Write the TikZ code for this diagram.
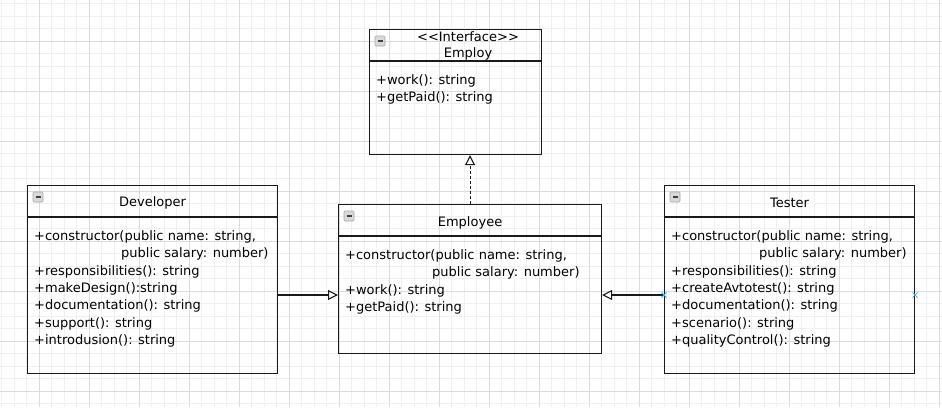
\documentclass[tikz,border=0pt]{standalone}
\usepackage{fontspec}
\setmainfont{DejaVu Sans}
\usetikzlibrary{arrows.meta}
\newcommand{\umlfont}{\fontsize{13}{16}\selectfont}
\definecolor{gridminor}{HTML}{F0F0F0}
\definecolor{gridmajor}{HTML}{DCDCDC}
\definecolor{portblue}{HTML}{29B6F2}
\definecolor{umlline}{HTML}{1A1A1A}

\begin{document}
\begin{tikzpicture}[x=1pt,y=-1pt,
    classbox/.style={draw=umlline, line width=1.1pt, anchor=north west, inner sep=0pt},
    classline/.style={umlline, line width=1.1pt},
    classtitle/.style={anchor=base, inner sep=0pt, font=\umlfont},
    member/.style={anchor=base west, inner sep=0pt, font=\umlfont},
    foldicon/.style={draw=gray!70, fill=gray!30, rounded corners=1pt, line width=0.6pt},
    foldbar/.style={black!75, line width=1.4pt},
    inherit/.style={-{Triangle[open,length=10pt,width=10pt]}, umlline, line width=1.1pt},
    realize/.style={inherit, dash pattern=on 3pt off 2pt},
    port/.style={portblue, line width=0.8pt}]
  \useasboundingbox (0,0) rectangle (942,407);
  % background grid
  \foreach \i in {0,...,75} {
    \draw[gridminor, line width=0.8pt] (1.8+12.5*\i,0) -- (1.8+12.5*\i,407);
  }
  \foreach \i in {0,...,32} {
    \draw[gridminor, line width=0.8pt] (0,3.5+12.5*\i) -- (942,3.5+12.5*\i);
  }
  \foreach \i in {0,...,18} {
    \draw[gridmajor, line width=0.8pt] (39.3+50*\i,0) -- (39.3+50*\i,407);
  }
  \foreach \i in {0,...,7} {
    \draw[gridmajor, line width=0.8pt] (0,41+50*\i) -- (942,41+50*\i);
  }

  % class boxes
  \node[classbox, minimum width=172pt, minimum height=125pt] (employ) at (369,29) {};
  \node[classbox, minimum width=250pt, minimum height=188pt] (dev) at (27,185) {};
  \node[classbox, minimum width=263pt, minimum height=149pt] (emp) at (338,204) {};
  \node[classbox, minimum width=250pt, minimum height=188pt] (tes) at (664,185) {};

  % header dividers and fold icons
  \foreach \b in {employ,dev,emp,tes} {
    \draw[classline] ([yshift=-32pt]\b.north west) -- ([yshift=-32pt]\b.north east);
    \draw[foldicon] ([shift={(6,7)}]\b.north west) rectangle ++(10,10);
    \draw[foldbar] ([shift={(8.5,12)}]\b.north west) -- ++(5,0);
  }

  % titles
  \node[classtitle] (employ-st) at (468,41.3) {<\kern0pt<Interface>\kern0pt>};
  \node[classtitle] (employ-t) at (468,57.3) {Employ};
  \node[classtitle] (dev-t) at ([yshift=-21.5pt]dev.north) {Developer};
  \node[classtitle] (emp-t) at ([yshift=-22pt]emp.north) {Employee};
  \node[classtitle] (tes-t) at ([yshift=-22pt]tes.north) {Tester};

  % members
  \foreach \t [count=\i from 0] in {{+work(): string},{+getPaid(): string}} {
    \node[member] (employ-m\i) at ([shift={(7,55+17.3*\i)}]employ.north west) {\t};
  }
  \foreach \t [count=\i from 0] in {{+constructor(public name: string,},
      {\hspace*{87pt}public salary: number)},{+responsibilities(): string},
      {+makeDesign():string},{+documentation(): string},{+support(): string},
      {+introdusion(): string}} {
    \node[member] (dev-m\i) at ([shift={(7,55.5+17.3*\i)}]dev.north west) {\t};
  }
  \foreach \t [count=\i from 0] in {{+constructor(public name: string,},
      {\hspace*{87pt}public salary: number)},{+work(): string},{+getPaid(): string}} {
    \node[member] (emp-m\i) at ([shift={(7,55.5+17.3*\i)}]emp.north west) {\t};
  }
  \foreach \t [count=\i from 0] in {{+constructor(public name: string,},
      {\hspace*{88pt}public salary: number)},{+responsibilities(): string},
      {+createAvtotest(): string},{+documentation(): string},{+scenario(): string},
      {+qualityControl(): string}} {
    \node[member] (tes-m\i) at ([shift={(7,55.5+17.3*\i)}]tes.north west) {\t};
  }

  % relations
  \coordinate (mid) at (0,295);
  \draw[inherit] (dev.east |- mid) -- (emp.west |- mid);
  \draw[inherit] (tes.west |- mid) -- (emp.east |- mid);
  \draw[realize] (emp.north) -- (emp.north |- employ.south);

  % connection points
  \foreach \p in {tes.west,tes.east} {
    \draw[port] (\p |- mid) ++(-2.5,-2.5) -- ++(5,5) ++(-5,0) -- ++(5,-5);
  }
\end{tikzpicture}
\end{document}
